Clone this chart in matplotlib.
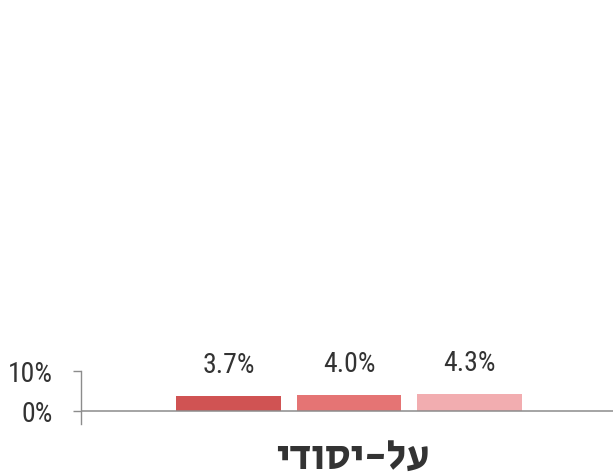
"""
Bar chart of the three shares for 'על-יסודי', saved as out.png
"""

import matplotlib.pyplot as plt
import numpy as np

plt.rcParams['font.family'] = ['Roboto Condensed', 'Liberation Sans', 'DejaVu Sans']

# data
category = "על-יסודי"
values = [3.7, 4.0, 4.3]
value_labels = ["3.7%", "4.0%", "4.3%"]
bar_colors = ["#d05353", "#e57474", "#f2adb0"]
y_ticks = [0, 10]
y_tick_labels = ["0%", "10%"]

text_color = "#333333"
axis_color = "#8c8c8c"

fig = plt.figure(figsize=(6.13, 4.77), dpi=100)
ax = fig.add_axes([81 / 613, 52 / 477, 532 / 613, 53 / 477])

x = np.arange(len(values))
bars = ax.bar(x, values, width=0.871, color=bar_colors)

for b, lab in zip(bars, value_labels):
    ax.annotate(lab, (b.get_x() + b.get_width() / 2, b.get_height()),
                xytext=(0, 17.3), textcoords="offset points",
                ha="center", va="baseline", fontsize=20,
                color=text_color, annotation_clip=False)

ax.set_xlim(-1.224, 3.191)
ax.set_ylim(-3.25, 10)
ax.axhline(0, color=axis_color, lw=1.1)

ax.set_yticks(y_ticks)
ax.set_yticklabels(y_tick_labels, fontsize=20, color=text_color)
ax.tick_params(axis="y", length=6, width=1.0, color=axis_color, pad=14)
ax.set_xticks([])

for side in ["top", "right", "bottom"]:
    ax.spines[side].set_visible(False)
ax.spines["left"].set_color(axis_color)
ax.spines["left"].set_linewidth(1.0)

# hebrew title, reversed for left-to-right drawing
fig.text(353 / 613, 1 - 458 / 477, category[::-1], ha="center", va="center",
         fontsize=30, fontweight="bold", color=text_color,
         family=["Secular One", "Liberation Sans", "DejaVu Sans"])

fig.savefig("out.png", dpi=100)
plt.close(fig)
